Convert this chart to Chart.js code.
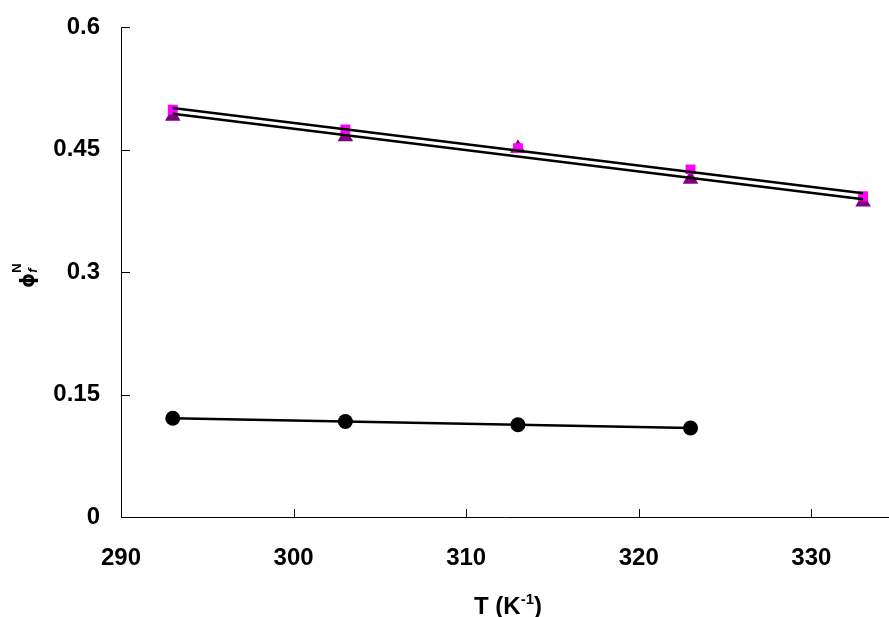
<!DOCTYPE html>
<html>
<head>
<meta charset="utf-8">
<script src="https://cdn.jsdelivr.net/npm/chart.js@4.4.1/dist/chart.umd.min.js"></script>
<style>
  html, body { margin: 0; padding: 0; background: #ffffff; overflow: hidden; }
  #wrap { width: 889px; height: 617px; position: relative; overflow: hidden; }
</style>
</head>
<body>
<div id="wrap"><canvas id="c" width="898" height="617"></canvas></div>
<script>
// Temperatures (K) and fluorescence quantum yields
const temps = [293, 303, 313, 323, 333];
const phiSquare = [0.499, 0.475, 0.452, 0.426, 0.393];
const phiTriangle = [0.491, 0.466, 0.452, 0.414, 0.386];
const tempsCircle = [293, 303, 313, 323];
const phiCircle = [0.121, 0.117, 0.113, 0.109];

// Axis ticks
const xTicks = [290, 300, 310, 320, 330];
const yTicks = [0, 0.15, 0.3, 0.45, 0.6];

const FONT = "'Liberation Sans', Arial, sans-serif";
const SYM = "'DejaVu Sans', 'Liberation Sans', sans-serif";

function points(xs, ys) {
  return xs.map((x, i) => ({ x: x, y: ys[i] }));
}

// Least-squares straight line through a series, evaluated at its end points
function linearFit(xs, ys) {
  const n = xs.length;
  const mx = xs.reduce((a, b) => a + b, 0) / n;
  const my = ys.reduce((a, b) => a + b, 0) / n;
  let sxy = 0, sxx = 0;
  for (let i = 0; i < n; i++) {
    sxy += (xs[i] - mx) * (ys[i] - my);
    sxx += (xs[i] - mx) * (xs[i] - mx);
  }
  const slope = sxy / sxx;
  const icpt = my - slope * mx;
  const x0 = xs[0], x1 = xs[n - 1];
  return [{ x: x0, y: icpt + slope * x0 }, { x: x1, y: icpt + slope * x1 }];
}

function fitLine(data, order) {
  return {
    type: 'line',
    data: data,
    borderColor: '#000000',
    borderWidth: 2.5,
    pointRadius: 0,
    fill: false,
    order: order
  };
}

// Inward-pointing tick marks
const innerTicks = {
  id: 'innerTicks',
  afterDatasetsDraw(chart) {
    const ctx = chart.ctx;
    const xs = chart.scales.x, ys = chart.scales.y;
    const a = chart.chartArea;
    ctx.save();
    ctx.strokeStyle = '#000000';
    ctx.lineWidth = 1;
    ctx.beginPath();
    xTicks.forEach(v => {
      const px = Math.round(xs.getPixelForValue(v)) + 0.5;
      ctx.moveTo(px, a.bottom);
      ctx.lineTo(px, a.bottom - 8);
    });
    yTicks.forEach(v => {
      const py = Math.round(ys.getPixelForValue(v)) + 0.5;
      ctx.moveTo(a.left, py);
      ctx.lineTo(a.left + 9, py);
    });
    ctx.stroke();
    ctx.restore();
  }
};

// Axis titles with sub/superscripts
const axisTitles = {
  id: 'axisTitles',
  afterDraw(chart) {
    const ctx = chart.ctx;
    ctx.save();
    ctx.fillStyle = '#000000';
    ctx.textBaseline = 'alphabetic';
    ctx.textAlign = 'left';

    // x title: T (K^-1)
    const big = 'bold 24px ' + FONT;
    const small = 'bold 15px ' + FONT;
    const parts = [
      { t: 'T (K', f: big, dy: 0 },
      { t: '-1', f: small, dy: -10 },
      { t: ')', f: big, dy: 0 }
    ];
    let w = 0;
    parts.forEach(p => { ctx.font = p.f; p.w = ctx.measureText(p.t).width; w += p.w; });
    let x = 508 - w / 2;
    const base = 614;
    parts.forEach(p => { ctx.font = p.f; ctx.fillText(p.t, x, base + p.dy); x += p.w; });

    // y title: phi_f^N, reading upwards
    ctx.translate(34, 288);
    ctx.rotate(-Math.PI / 2);
    ctx.font = 'bold 19px ' + SYM;
    const phi = '\u03d5';
    const pw = ctx.measureText(phi).width;
    ctx.fillText(phi, 0, 0);
    ctx.font = 'italic bold 13px ' + FONT;
    ctx.fillText('f', pw, 3);
    ctx.font = 'bold 13px ' + FONT;
    ctx.fillText('N', pw, -13);
    ctx.restore();
  }
};

const chart = new Chart(document.getElementById('c'), {
  type: 'scatter',
  data: {
    datasets: [
      fitLine(linearFit(temps, phiSquare), 0),
      fitLine(linearFit(temps, phiTriangle), 1),
      fitLine(linearFit(tempsCircle, phiCircle), 2),
      {
        label: 'Set 1',
        data: points(temps, phiSquare),
        pointStyle: 'rect',
        pointRadius: 7,
        backgroundColor: '#ff00ff',
        borderColor: '#ff00ff',
        borderWidth: 0,
        order: 3
      },
      {
        label: 'Set 2',
        data: points(temps, phiTriangle),
        pointStyle: 'triangle',
        pointRadius: 9,
        backgroundColor: '#800080',
        borderColor: '#800080',
        borderWidth: 0,
        order: 4
      },
      {
        label: 'Set 3',
        data: points(tempsCircle, phiCircle),
        pointStyle: 'circle',
        pointRadius: 7.5,
        backgroundColor: '#000000',
        borderColor: '#000000',
        borderWidth: 0,
        order: 5
      }
    ]
  },
  options: {
    responsive: false,
    animation: false,
    layout: { padding: { top: 15, right: 0, bottom: 0, left: 0 } },
    plugins: { legend: { display: false }, tooltip: { enabled: false } },
    scales: {
      x: {
        type: 'linear',
        min: 290,
        max: 334.5,
        grid: { display: false },
        border: { display: true, color: '#000000', width: 1 },
        afterBuildTicks: s => { s.ticks = xTicks.map(v => ({ value: v })); },
        afterFit: s => { s.height = 100; },
        ticks: {
          color: '#000000',
          padding: 19,
          maxRotation: 0,
          font: { family: FONT, size: 24, weight: 'bold' }
        }
      },
      y: {
        type: 'linear',
        min: 0,
        max: 0.6,
        grid: { display: false },
        border: { display: true, color: '#000000', width: 1 },
        afterBuildTicks: s => { s.ticks = yTicks.map(v => ({ value: v })); },
        afterFit: s => { s.width = 121; },
        ticks: {
          color: '#000000',
          padding: 13,
          font: { family: FONT, size: 24, weight: 'bold' },
          callback: v => String(+v.toFixed(2))
        }
      }
    }
  },
  plugins: [innerTicks, axisTitles]
});
</script>
</body>
</html>
